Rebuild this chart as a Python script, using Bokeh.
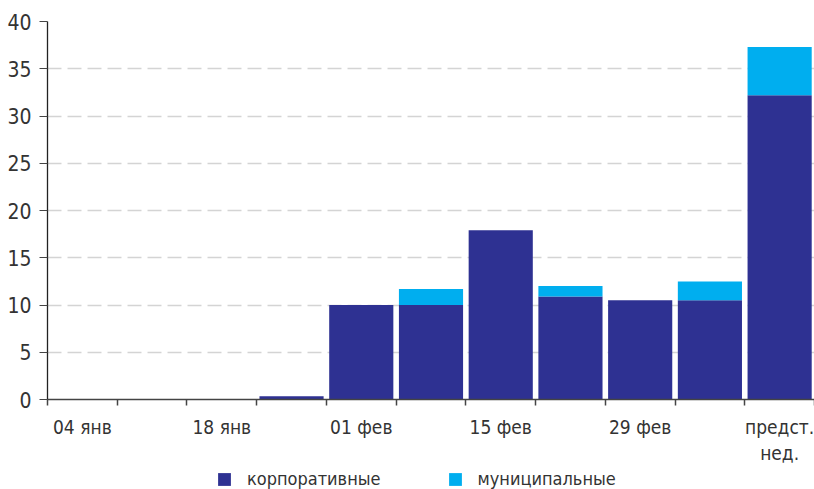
from bokeh.plotting import figure
from bokeh.models import ColumnDataSource, FixedTicker, Legend, LegendItem, Range1d
from bokeh.layouts import column
from bokeh.embed import file_html
from bokeh.resources import INLINE

# ---- data ----
weeks = ["04 янв", "11 янв", "18 янв", "25 янв", "01 фев", "08 фев",
         "15 фев", "22 фев", "29 фев", "07 мар", "предст. нед."]
tick_labels = ["04 янв", "", "18 янв", "", "01 фев", "", "15 фев", "",
               "29 фев", "", "предст.\nнед."]
corporate = [0, 0, 0, 0.35, 10.0, 10.0, 17.9, 10.9, 10.5, 10.5, 32.2]
municipal = [0, 0, 0, 0, 0, 1.7, 0, 1.1, 0, 2.0, 5.1]
series_names = ["корпоративные", "муниципальные"]
colors = ["#2e3192", "#00aeef"]
y_ticks = [0, 5, 10, 15, 20, 25, 30, 35, 40]

FONT = "DejaVu Sans Condensed, Roboto, sans-serif"

n = len(weeks)
centers = [i + 0.5 for i in range(n)]
bounds = list(range(n + 1))

src = ColumnDataSource(dict(x=centers, week=weeks, corp=corporate, muni=municipal))

p = figure(width=814, height=468, output_backend="svg", toolbar_location=None,
           x_range=Range1d(0, n), y_range=Range1d(0, 40),
           min_border_left=47, min_border_right=0, min_border_top=21,
           min_border_bottom=69)
p.outline_line_color = None
p.background_fill_color = "white"

rs = p.vbar_stack(["corp", "muni"], x="x", width=0.92, source=src,
                  fill_color=colors, line_color=None)

# y axis
p.yaxis.ticker = FixedTicker(ticks=y_ticks)
p.yaxis.axis_line_color = "#222222"
p.yaxis.axis_line_width = 1.3
p.yaxis.major_tick_line_color = "#444444"
p.yaxis.major_tick_out = 8
p.yaxis.major_tick_in = 0
p.yaxis.minor_tick_line_color = None
p.yaxis.major_label_text_font = FONT
p.yaxis.major_label_text_font_size = "21px"
p.yaxis.major_label_text_color = "#333333"
p.yaxis.major_label_standoff = 8

# x axis
p.xaxis.ticker = FixedTicker(ticks=centers, minor_ticks=bounds)
p.xaxis.major_label_overrides = {c: t for c, t in zip(centers, tick_labels)}
p.xaxis.axis_line_color = "#444444"
p.xaxis.axis_line_width = 1.5
p.xaxis.major_tick_line_color = None
p.xaxis.major_tick_out = 0
p.xaxis.major_tick_in = 0
p.xaxis.minor_tick_line_color = "#444444"
p.xaxis.minor_tick_line_width = 1.5
p.xaxis.minor_tick_out = 6
p.xaxis.minor_tick_in = 0
p.xaxis.major_label_text_font = FONT
p.xaxis.major_label_text_font_size = "19px"
p.xaxis.major_label_text_color = "#333333"
p.xaxis.major_label_standoff = 10

# grid
p.xgrid.grid_line_color = None
p.ygrid.ticker = FixedTicker(ticks=y_ticks)
p.ygrid.grid_line_color = "#d4d4d4"
p.ygrid.grid_line_width = 1.5
p.ygrid.grid_line_dash = "14 6"

# ---- legend strip (separate figure so it is not clipped) ----
# its ranges lie outside the data, so its bars only serve as legend swatches
pl = figure(width=814, height=21, output_backend="svg", toolbar_location=None,
            x_range=Range1d(-20, -19), y_range=Range1d(-20, -19),
            x_axis_type=None, y_axis_type=None,
            min_border=0, min_border_left=0, min_border_right=0,
            min_border_top=0, min_border_bottom=0)
pl.outline_line_color = None
pl.xgrid.grid_line_color = None
pl.ygrid.grid_line_color = None
lr = pl.vbar_stack(["corp", "muni"], x="x", width=0.92, source=src,
                   fill_color=colors, line_color=None)

legend = Legend(items=[LegendItem(label=series_names[i], renderers=[lr[i]])
                       for i in range(2)],
                orientation="horizontal", location=(169, 0),
                glyph_width=16, glyph_height=16, label_standoff=15,
                spacing=66, padding=0, margin=0,
                label_text_font=FONT, label_text_font_size="18px",
                label_text_color="#333333", border_line_color=None,
                background_fill_alpha=0)
pl.add_layout(legend, "center")

open("out.html", "w").write(file_html(column(p, pl, spacing=0), INLINE))
